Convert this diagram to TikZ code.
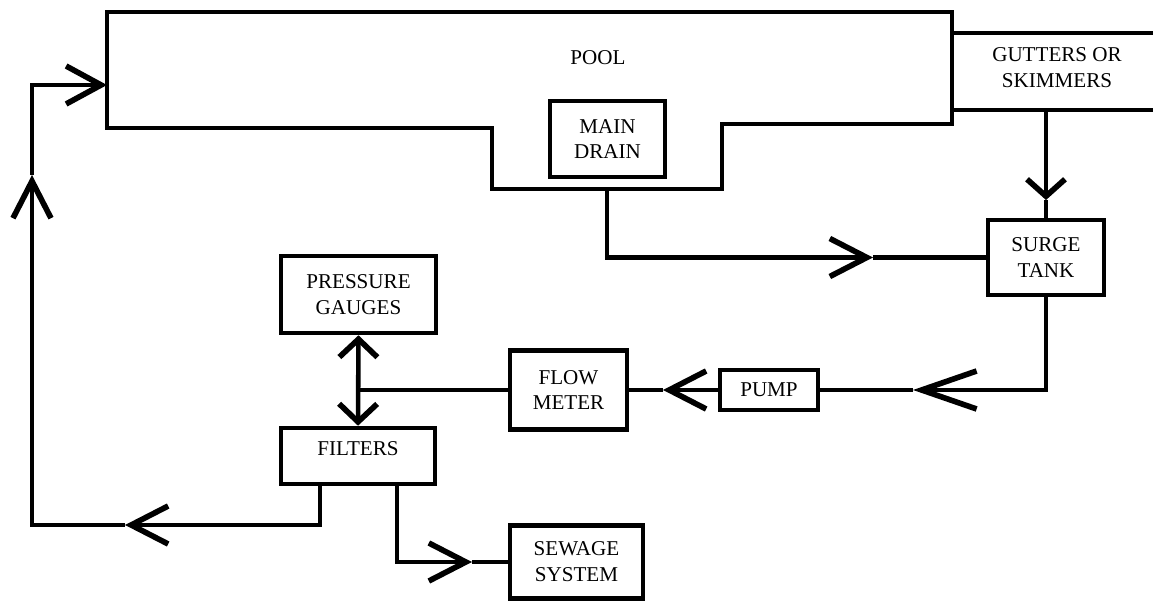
\documentclass[tikz,border=0pt]{standalone}
\usepackage{fontspec}
\setmainfont{Liberation Serif}
\usetikzlibrary{arrows.meta}

\begin{document}
\begin{tikzpicture}
	[unit/.style={rectangle,draw=black,align=center,inner sep=0pt},
	flow/.style={-{Straight Barb[length=#1,width=0.76cm,sharp,line width=3.2pt]}},
	flow/.default=0.74cm,
	gauge/.style={{Straight Barb[length=0.36cm,width=0.76cm,sharp,line width=3.2pt]}-{Straight Barb[length=0.36cm,width=0.76cm,sharp,line width=3.2pt]}},
	line width=2.6pt,
	font=\fontsize{12}{14.7}\selectfont]

	\useasboundingbox (0,0) rectangle (23.06,12);

	% pool outline
	\draw (2.14,11.76) -- (2.14,9.44) -- (9.84,9.44) -- (9.84,8.22) -- (14.44,8.22) -- (14.44,9.52) -- (19.04,9.52) -- (19.04,11.76) -- cycle;
	\node (pool) at ( 11.96,10.84 ) {POOL};

	% gutters
	\draw (19.04,11.34) -- (23.06,11.34);
	\draw (19.04,9.80) -- (23.06,9.80);
	\node (gutters) at ( 21.14,10.64 ) [align=center] {GUTTERS OR\\SKIMMERS};

	% units
	\node (drain) at ( 12.15,9.22 ) [unit, minimum width=2.3cm, minimum height=1.52cm] {MAIN\\DRAIN};
	\node (surge) at ( 20.92,6.85 ) [unit, minimum width=2.32cm, minimum height=1.5cm] {SURGE\\TANK};
	\node (pump) at ( 15.38,4.2 ) [unit, minimum width=1.96cm, minimum height=0.8cm] {PUMP};
	\node (meter) at ( 11.37,4.2 ) [unit, minimum width=2.34cm, minimum height=1.58cm] {FLOW\\METER};
	\node (gauges) at ( 7.17,6.11 ) [unit, minimum width=3.1cm, minimum height=1.54cm] {PRESSURE\\GAUGES};
	\node (filters) at ( 7.16,2.88 ) [unit, minimum width=3.08cm, minimum height=1.12cm, text depth=8pt] {FILTERS};
	\node (sewage) at ( 11.53,0.76 ) [unit, minimum width=2.66cm, minimum height=1.46cm] {SEWAGE\\SYSTEM};

	% bends and arrow points
	\coordinate (drainout) at ( 12.14,8.22 );
	\coordinate (d1) at ( 17.46,6.85 );
	\coordinate (gut) at ( 20.92,9.80 );
	\coordinate (g1) at ( 20.92,8.0 );
	\coordinate (s1) at ( 18.26,4.2 );
	\coordinate (p1) at ( 13.26,4.2 );
	\coordinate (ret) at ( 6.4,2.32 );
	\coordinate (r1) at ( 2.5,1.5 );
	\coordinate (r2) at ( 0.64,8.5 );
	\coordinate (inlet) at ( 2.14,10.3 );
	\coordinate (sew) at ( 7.94,2.32 );
	\coordinate (w1) at ( 9.44,0.76 );

	% to surge tank
	\draw[flow] (drainout) |- (d1);
	\draw (d1) -- (surge.west);
	\draw[flow=0.34cm] (gut) -- (g1);
	\draw (g1) -- (surge.north);

	% through pump and meter
	\draw[flow=1.1cm] (surge.south) |- (s1);
	\draw (s1) -- (pump.east);
	\draw[flow] (pump.west) -- (p1);
	\draw (p1) -- (meter.east);
	\draw (meter.west) -- (meter.west -| gauges.south);
	\draw[gauge] (gauges.south) -- (filters.north);

	% back to pool
	\draw[flow] (ret) |- (r1);
	\draw[flow] (r1) -| (r2);
	\draw[flow=0.7cm] (r2) |- (inlet);

	% to sewage
	\draw[flow] (sew) |- (w1);
	\draw (w1) -- (sewage.west);

\end{tikzpicture}
\end{document}
